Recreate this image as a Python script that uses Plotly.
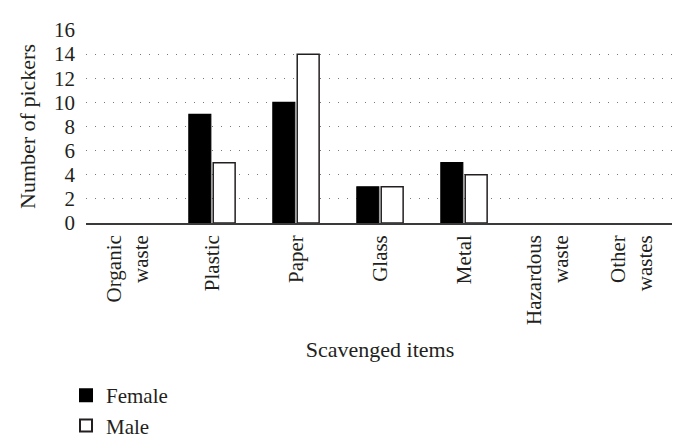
import plotly.graph_objects as go

# --------------------------------------------------
# Data
# --------------------------------------------------
categories = ["Organic<br>waste", "Plastic", "Paper", "Glass", "Metal",
              "Hazardous<br>waste", "Other<br>wastes"]
female = [0, 9, 10, 3, 5, 0, 0]
male = [0, 5, 14, 3, 4, 0, 0]
y_ticks = [0, 2, 4, 6, 8, 10, 12, 14, 16]

FONT = "Liberation Serif, Times New Roman, serif"
INK = "#231f20"

fig = go.Figure()

# zero-height bars get no outline so they don't smudge the axis line
fig.add_trace(go.Bar(
    x=categories, y=female, name="Female",
    marker=dict(color="#000000",
                line=dict(color="#000000", width=[1.2 if v else 0 for v in female])),
))
fig.add_trace(go.Bar(
    x=categories, y=male, name="Male",
    marker=dict(color="#ffffff",
                line=dict(color="#231f20", width=[1.5 if v else 0 for v in male])),
))

fig.update_layout(
    width=680, height=447,
    template="plotly_white",
    paper_bgcolor="white",
    plot_bgcolor="white",
    font=dict(family=FONT, size=21, color=INK),
    barmode="group",
    bargap=0.42,
    bargroupgap=0.1,
    margin=dict(l=78, r=14, t=22, b=232, autoexpand=False),
    xaxis=dict(
        tickangle=-90,
        tickfont=dict(size=21),
        showgrid=False,
        showline=True,
        linecolor="#3a3a3a",
        linewidth=1.6,
        ticks="",
        zeroline=False,
        ticklabelstandoff=2,
        title=dict(text="Scavenged items", font=dict(size=22), standoff=18),
        automargin=False,
    ),
    yaxis=dict(
        range=[0, 16],
        tickvals=y_ticks,
        tickfont=dict(size=21),
        showgrid=True,
        gridcolor="#7a7a7a",
        gridwidth=1,
        griddash="1px,8px",
        showline=False,
        zeroline=False,
        ticks="",
        ticklabelstandoff=10,
        title=dict(text="Number of pickers", font=dict(size=22), standoff=12),
        automargin=False,
    ),
    legend=dict(
        orientation="v",
        x=-0.034, xanchor="left",
        y=-0.788, yanchor="top",
        font=dict(size=21),
        tracegroupgap=0,
        itemsizing="constant",
        bgcolor="rgba(0,0,0,0)",
    ),
    showlegend=True,
)

fig.write_html("out.html")
